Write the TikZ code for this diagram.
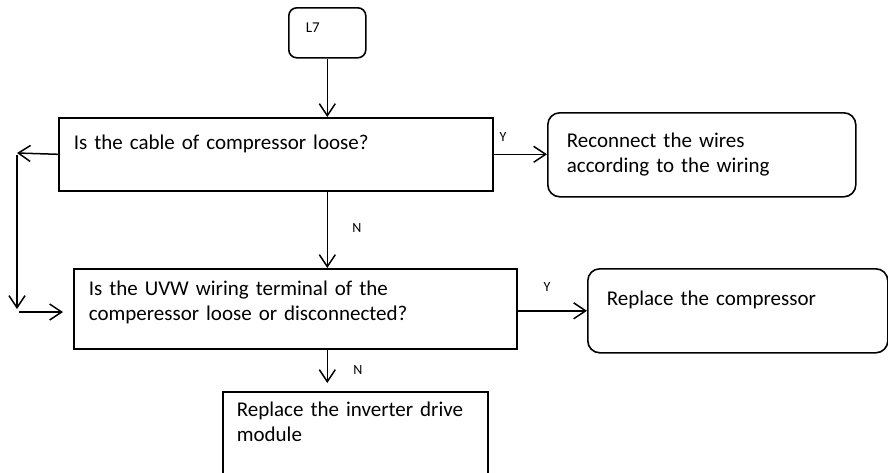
\documentclass[tikz,border=0pt]{standalone}
\usepackage{fontspec}
\setmainfont{Carlito}
\usetikzlibrary{arrows.meta,positioning,calc}

\begin{document}
\begin{tikzpicture}[
  x=1pt, y=-1pt,
  box/.style={draw, line width=1.6pt, anchor=north west, align=left, inner xsep=15pt, inner ysep=0pt, font=\fontsize{21}{25}\selectfont},
  endbox/.style={box, rounded corners=12pt, inner xsep=19pt},
  arr/.style={-{Straight Barb[length=12pt,width=16pt]}, line width=1.5pt},
  yn/.style={font=\fontsize{14}{16}\selectfont, inner sep=0pt}
]
\useasboundingbox (0,0) rectangle (888,472);
\node[box, rounded corners=8pt, inner xsep=17pt, text width=43pt, minimum height=50pt, font=\fontsize{15}{17}\selectfont] (l7) at (288,7) {L7\\[-6pt]\mbox{}};
\node[box, text width=404pt, minimum height=73pt] (cable) at (58,117) {Is the cable of compressor loose?\\\mbox{}};
\node[endbox, text width=270pt, minimum height=84pt] (reconnect) at (547,112) {Reconnect the wires\\according to the wiring};
\node[box, text width=413pt, minimum height=80pt] (uvw) at (73,268) {Is the UVW wiring terminal of the\\comperessor loose or disconnected?\\[-8pt]\mbox{}};
\node[endbox, text width=262pt, minimum height=84pt] (comp) at (587,268) {Replace the compressor\\\mbox{}};
\node[box, inner xsep=14pt, text width=237pt, minimum height=104pt] (inverter) at (222,391) {Replace the inverter drive\\module\\\mbox{}\\[-6pt]\mbox{}};

% yes / no branches
\draw[arr] (l7) -- (l7 |- cable.north);
\draw[arr] (cable.east) -- (cable.east -| reconnect.west);
\node[yn] (y1) at (503,137) {Y};
\draw[arr] (l7 |- cable.south) -- (l7 |- uvw.north);
\node[yn] (n1) at (357,228) {N};

% loop back on the left
\coordinate (lt) at (17,153);
\coordinate (lb) at (17,309);
\draw[arr] (cable.west) -- (lt);
\draw[arr, shorten <=2pt] (lt) -- (lb);
\draw[arr, shorten <=2pt, shorten >=10pt] ([yshift=-3pt]lb) -- ([yshift=-3pt]lb -| uvw.west);

\draw[arr] (uvw.east |- comp.west) -- (comp.west);
\node[yn] (y2) at (547,287) {Y};
\draw[arr, shorten >=8pt] (l7 |- uvw.south) -- (l7 |- inverter.north);
\node[yn] (n2) at (358,370) {N};
\end{tikzpicture}
\end{document}
